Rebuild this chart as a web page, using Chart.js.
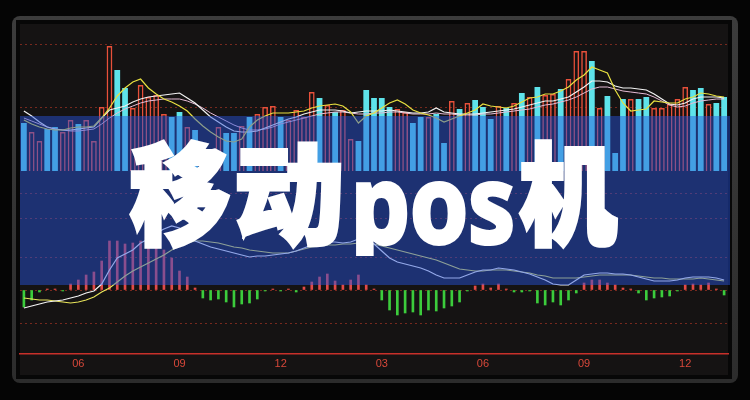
<!DOCTYPE html>
<html>
<head>
<meta charset="utf-8">
<script src="https://cdn.jsdelivr.net/npm/chart.js@4/dist/chart.umd.min.js"></script>
<style>
  html, body { margin: 0; padding: 0; background: #050505; }
  #wrap { width: 750px; height: 400px; }
</style>
</head>
<body>
<div id="wrap"><canvas id="chart" width="750" height="400"></canvas></div>
<script>
// weekly bars, 91 weeks
const monthTicks = ['06', '09', '12', '03', '06', '09', '12'];
const monthTickIdx = [7, 20, 33, 46, 59, 72, 85];

const volume = [48, 39, 30, 42, 44, 39, 51, 47, 51, 30,
  64, 125, 101, 83, 63, 86, 74, 76, 57, 54,
  59, 44, 41, 21, 19, 44, 38, 38, 45, 54,
  57, 64, 65, 54, 51, 61, 54, 79, 73, 66,
  59, 61, 32, 30, 81, 73, 73, 64, 62, 59,
  48, 54, 54, 57, 28, 70, 62, 68, 71, 64,
  52, 65, 63, 68, 78, 74, 84, 76, 77, 82,
  92, 120, 120, 110, 63, 75, 18, 72, 72, 72,
  74, 63, 63, 67, 72, 84, 81, 83, 67, 68,
  74];

// 1 = up week (hollow red), 0 = down week (cyan)
const upWeek = [0, 1, 1, 0, 0, 1, 1, 0, 1, 1,
  1, 1, 0, 0, 1, 1, 1, 1, 1, 0,
  0, 1, 0, 0, 1, 1, 0, 0, 1, 0,
  1, 1, 1, 0, 1, 1, 1, 1, 0, 1,
  0, 1, 1, 0, 0, 0, 0, 0, 1, 1,
  0, 0, 1, 0, 0, 1, 0, 1, 0, 0,
  0, 1, 0, 1, 0, 1, 0, 1, 1, 0,
  1, 1, 1, 0, 1, 0, 0, 0, 1, 0,
  0, 1, 1, 1, 1, 1, 0, 0, 1, 0,
  0];

const maFast = [51, 47, 44, 42, 41, 41, 43, 44, 44, 45,
  53, 63, 75, 83, 89, 92, 83, 77, 72, 69,
  65, 60, 52, 45, 39, 34, 30, 29, 32, 44,
  51, 55, 58, 58, 58, 59, 60, 63, 65, 66,
  67, 65, 59, 48, 55, 58, 63, 68, 71, 67,
  61, 58, 56, 53, 49, 52, 55, 58, 61, 67,
  65, 64, 63, 65, 69, 73, 74, 77, 77, 80,
  84, 91, 96, 104, 101, 98, 81, 68, 60, 61,
  62, 70, 69, 68, 68, 72, 74, 78, 77, 75,
  74];

const maMid = [60, 55, 49, 44, 42, 41, 41, 42, 43, 44,
  53, 61, 63, 65, 69, 72, 74, 75, 76, 77,
  78, 73, 68, 61, 54, 49, 44, 40, 39, 39,
  40, 43, 46, 49, 52, 54, 57, 59, 61, 61,
  61, 60, 58, 59, 60, 60, 60, 61, 60, 59,
  58, 58, 59, 63, 59, 58, 57, 57, 57, 58,
  59, 60, 61, 62, 64, 66, 68, 70, 70, 72,
  74, 79, 84, 90, 90, 89, 85, 83, 83, 82,
  81, 77, 72, 67, 66, 68, 72, 74, 74, 74,
  73];

const maSlow = [53, 50, 47, 44, 42, 41, 40, 40, 41, 42,
  47, 53, 58, 62, 65, 68, 70, 71, 72, 72,
  72, 70, 67, 63, 58, 54, 50, 46, 43, 41,
  41, 42, 44, 47, 49, 51, 53, 55, 57, 58,
  59, 59, 58, 57, 57, 58, 58, 59, 59, 58,
  57, 57, 57, 58, 57, 57, 56, 56, 56, 57,
  57, 58, 59, 60, 61, 62, 64, 66, 67, 69,
  71, 74, 78, 82, 84, 84, 82, 80, 79, 78,
  77, 74, 70, 66, 64, 65, 68, 70, 71, 72,
  72];

const macdHist = [-17, -10, -2, 1, 1, -1, 6, 10, 15, 18,
  29, 49, 49, 46, 47, 49, 49, 45, 40, 32,
  19, 13, 2, -8, -10, -9, -12, -17, -14, -13,
  -9, -1, 1, -1, 1, -2, 3, 8, 13, 16,
  9, 5, 10, 15, 5, 1, -10, -20, -25, -23,
  -22, -25, -20, -21, -18, -16, -12, -1, 4, 6,
  2, 6, 1, -2, -2, -1, -13, -15, -12, -15,
  -10, -3, 7, 10, 10, 7, 5, 2, 1, -3,
  -10, -8, -7, -6, -1, 5, 6, 5, 7, 1,
  -5];

const dif = [-18, -16, -14, -12, -11, -10, -8, -6, -3, -1,
  6, 20, 32, 36, 40, 47, 51, 57, 61, 64,
  62, 56, 49, 46, 43, 41, 39, 37, 35, 33,
  34, 34, 35, 36, 37, 39, 42, 45, 47, 48,
  48, 47, 48, 51, 50, 46, 39, 32, 28, 26,
  24, 22, 19, 15, 12, 12, 12, 15, 18, 20,
  20, 22, 21, 20, 18, 16, 13, 10, 6, 5,
  5, 10, 15, 16, 17, 17, 16, 16, 15, 13,
  11, 9, 9, 9, 10, 12, 13, 13, 13, 12,
  10];

const dea = [-8, -9, -10, -10, -11, -12, -13, -12, -10, -7,
  -2, 2, 8, 14, 19, 23, 27, 31, 35, 40,
  44, 47, 49, 49, 48, 47, 45, 43, 42, 40,
  39, 38, 37, 37, 37, 39, 41, 43, 44, 45,
  45, 46, 46, 47, 47, 46, 44, 42, 40, 38,
  36, 34, 32, 30, 27, 24, 21, 20, 19, 19,
  20, 20, 20, 19, 18, 17, 15, 14, 12, 12,
  12, 12, 13, 14, 15, 15, 15, 15, 15, 14,
  13, 12, 12, 11, 11, 11, 11, 12, 11, 10,
  9];

const volGrid = [63, 126];
const macdGrid = [-33, 0, 33, 72, 97];

const weekLabels = volume.map((_, i) => {
  const k = monthTickIdx.indexOf(i);
  return k >= 0 ? monthTicks[k] : '';
});

const CYAN = '#5ee3ea';
const RED = '#e8503a';

// dark frame behind the chart
const framePlugin = {
  id: 'frame',
  beforeDraw: (chart) => {
    const ctx = chart.ctx;
    ctx.save();
    ctx.fillStyle = '#050505';
    ctx.fillRect(0, 0, chart.width, chart.height);
    const g = ctx.createLinearGradient(0, 16, 0, 383);
    g.addColorStop(0, '#3c3c3c');
    g.addColorStop(1, '#2c2c2c');
    ctx.fillStyle = g;
    ctx.beginPath();
    ctx.roundRect(12, 16, 726, 367, 8);
    ctx.fill();
    ctx.fillStyle = '#070707';
    ctx.fillRect(16, 20, 716, 359);
    ctx.fillStyle = '#151313';
    ctx.fillRect(20, 24, 708, 351);
    ctx.restore();
  },
};

// translucent blue banner + title on top
const bannerPlugin = {
  id: 'banner',
  afterDatasetsDraw: (chart) => {
    const ctx = chart.ctx;
    const { left, right } = chart.chartArea;
    ctx.save();
    ctx.fillStyle = 'rgba(38,82,222,0.47)';
    ctx.fillRect(left, 116, right - left + 2, 169);
    ctx.restore();
  },
  afterDraw: (chart) => {
    const ctx = chart.ctx;
    ctx.save();
    ctx.fillStyle = '#ffffff';
    ctx.strokeStyle = '#ffffff';
    ctx.lineJoin = 'miter';
    ctx.lineWidth = 4;
    ctx.textBaseline = 'alphabetic';
    ctx.font = '900 110px "Noto Sans CJK SC"';
    [['移', 130, 100], ['动', 234, 112], ['机', 519, 98]].forEach(([t, x, w]) => {
      ctx.fillText(t, x, 236, w);
      ctx.strokeText(t, x, 236, w);
    });
    // trim the p descender like the original lettering
    ctx.beginPath();
    ctx.rect(340, 150, 190, 106);
    ctx.clip();
    ctx.font = 'bold 108px "Noto Sans", "DejaVu Sans"';
    ctx.fillText('pos', 351, 243, 164);
    ctx.strokeText('pos', 351, 243, 164);
    ctx.restore();
  },
};

const gridStyle = {
  color: 'rgba(200,60,40,0.55)',
  drawTicks: false,
};

new Chart(document.getElementById('chart'), {
  type: 'bar',
  data: {
    labels: weekLabels,
    datasets: [
      {
        type: 'line', label: 'MA5', data: maFast, yAxisID: 'yv', order: 0,
        borderColor: '#e8e040', borderWidth: 1.2, pointRadius: 0, tension: 0,
      },
      {
        type: 'line', label: 'MA10', data: maMid, yAxisID: 'yv', order: 0,
        borderColor: '#f2f2f2', borderWidth: 1.2, pointRadius: 0, tension: 0,
      },
      {
        type: 'line', label: 'MA20', data: maSlow, yAxisID: 'yv', order: 0,
        borderColor: '#e6bcd6', borderWidth: 1, pointRadius: 0, tension: 0,
      },
      {
        type: 'line', label: 'DIF', data: dif, yAxisID: 'ym', order: 0,
        borderColor: '#f4f4f4', borderWidth: 1.2, pointRadius: 0, tension: 0,
      },
      {
        type: 'line', label: 'DEA', data: dea, yAxisID: 'ym', order: 0,
        borderColor: '#e8e45a', borderWidth: 1.2, pointRadius: 0, tension: 0,
      },
      {
        label: 'VOL', data: volume, yAxisID: 'yv', order: 2, grouped: false,
        barPercentage: 0.74, categoryPercentage: 1,
        backgroundColor: (c) => upWeek[c.dataIndex] ? 'rgba(0,0,0,0)' : CYAN,
        borderColor: (c) => upWeek[c.dataIndex] ? RED : CYAN,
        borderWidth: (c) => upWeek[c.dataIndex] ? 1.5 : 0,
      },
      {
        label: 'MACD', data: macdHist, yAxisID: 'ym', order: 1, grouped: false,
        barThickness: 2,
        backgroundColor: (c) => macdHist[c.dataIndex] >= 0 ? '#e24a48' : '#3ccc3c',
      },
    ],
  },
  options: {
    responsive: false,
    animation: false,
    devicePixelRatio: 1,
    layout: { padding: { left: 20, right: 22, top: 24, bottom: 0 } },
    plugins: { legend: { display: false }, tooltip: { enabled: false } },
    scales: {
      x: {
        grid: { display: false, drawTicks: false },
        border: { display: true, color: '#c8302a', width: 1.5 },
        ticks: {
          autoSkip: false, maxRotation: 0, minRotation: 0, padding: 3,
          color: '#d8483a', font: { family: 'Liberation Sans, Arial', size: 11 },
          callback: (v, i) => weekLabels[i],
        },
        afterFit: (s) => { s.height = 46; },
      },
      yv: {
        position: 'left', min: -183, max: 147,
        ticks: { display: false },
        border: { display: false, dash: [2, 3] },
        grid: gridStyle,
        afterBuildTicks: (s) => { s.ticks = volGrid.map((v) => ({ value: v })); },
        afterFit: (s) => { s.width = 0; },
      },
      ym: {
        position: 'right', min: -64, max: 266,
        ticks: { display: false },
        border: { display: false, dash: [2, 3] },
        grid: gridStyle,
        afterBuildTicks: (s) => { s.ticks = macdGrid.map((v) => ({ value: v })); },
        afterFit: (s) => { s.width = 0; },
      },
    },
  },
  plugins: [framePlugin, bannerPlugin],
});
</script>
</body>
</html>
